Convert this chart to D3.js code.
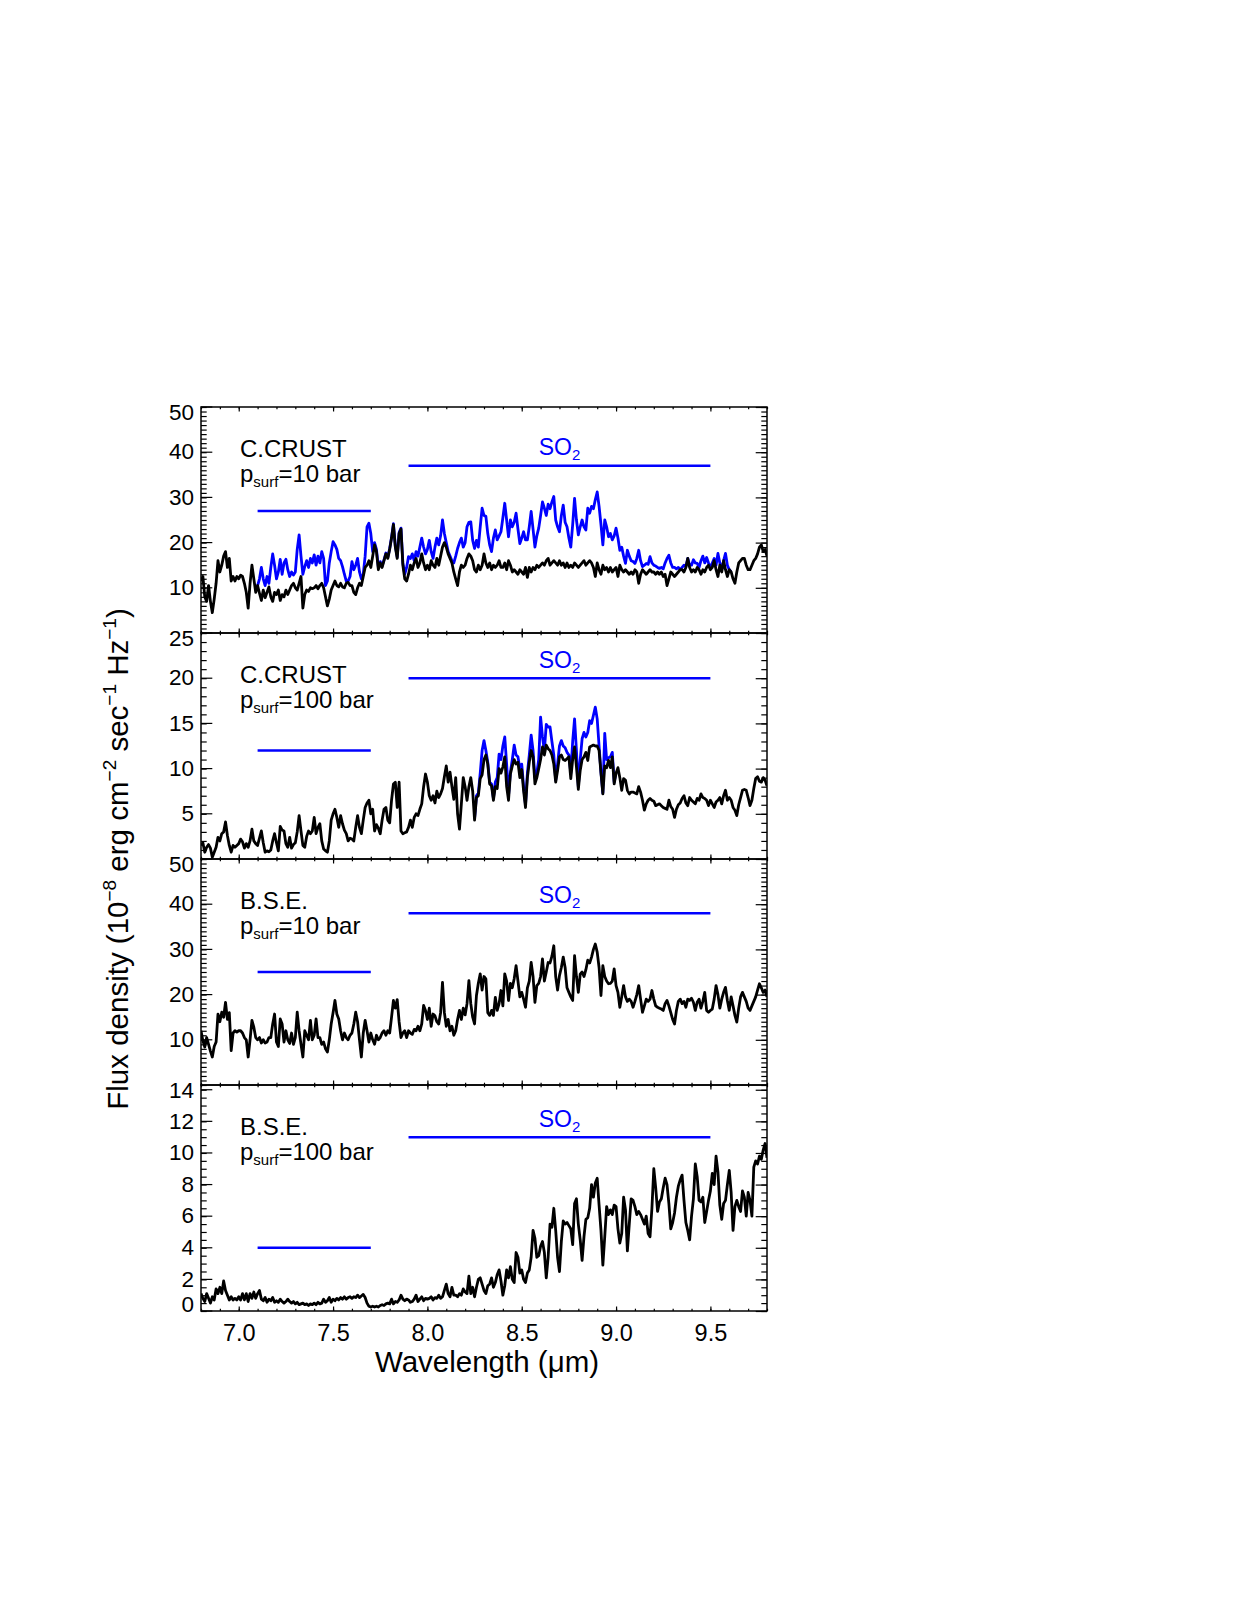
<!DOCTYPE html>
<html>
<head>
<meta charset="utf-8">
<script src="https://cdn.jsdelivr.net/npm/d3@7"></script>
<style>
  html, body { margin: 0; padding: 0; background: #fff; }
  svg { display: block; font-family: "Liberation Sans", Arial, Helvetica, sans-serif; }
</style>
</head>
<body>
<svg id="chart" width="1246" height="1612"></svg>
<script>
var lambdaStart = 6.8, lambdaStep = 0.01;

// C.CRUST, p_surf = 10 bar
var ccrust10Black = [
  11.5, 12.5, 8, 7, 10.5, 7, 4.5, 7.5, 11, 16,
  13.5, 15, 17, 18, 14.5, 16.5, 11.5, 12.5, 11.5, 12.5,
  12, 12.8, 12.5, 11, 9, 5.5, 11, 15, 12, 9,
  10.5, 8.8, 7.2, 9.5, 7.8, 9, 10.2, 8, 7, 9,
  8.5, 9.5, 7.2, 8.5, 8, 9.5, 8.5, 9.5, 10.5, 11,
  10, 9.5, 11, 12.5, 5.5, 8.5, 9.5, 9.2, 10, 9.8,
  10, 10.5, 9.8, 10.5, 11, 10, 8, 6, 7.5, 9.5,
  10.5, 11.5, 10.5, 10.2, 11, 10.2, 10, 11, 11.2, 10.5,
  10.5, 9, 8.5, 10, 11, 10.5, 12.5, 14.5, 15, 16,
  14.5, 17, 19.5, 18, 14, 15.5, 14.5, 16, 17.5, 16.5,
  18.5, 21, 24, 19, 16.5, 22, 23, 15, 12, 11.5,
  13, 15, 14, 15.5, 16.5, 14.5, 15.5, 17.5, 15.5, 14,
  15, 14, 16, 15, 14.5, 16.5, 15, 17, 19, 20,
  19, 17.5, 16.5, 15.5, 13.5, 12, 10.5, 13.5, 15, 14.5,
  15, 16.5, 17.5, 17, 16, 14, 13.5, 15, 14, 15,
  17.5, 15.5, 14.5, 15.5, 14, 15, 14.5, 15, 16, 14.5,
  14.5, 15.5, 14, 16, 15, 13.5, 14, 13.5, 13, 14,
  13.5, 13, 14.5, 12.3, 14.5, 13.5, 14.5, 14, 15, 14.5,
  15, 15.5, 15, 16, 16.5, 15, 15.5, 16, 15.5, 15,
  16, 15, 15.5, 14.5, 15.5, 14.5, 15, 14.5, 15.5, 15,
  14.5, 15, 15.5, 16, 15, 15.5, 16, 15.5, 14.5, 12.5,
  15.5, 14, 13, 15, 14, 14.5, 13.5, 14.5, 13.5, 14,
  14.5, 12.5, 15, 14, 13.5, 14, 13.5, 13, 13.5, 13,
  14, 13.5, 11, 13, 14, 13.5, 13, 13.5, 14, 13.5,
  13.5, 13, 13.5, 13, 13.5, 12.5, 13, 10.5, 12, 13.5,
  13, 12.5, 13, 13.5, 14, 14, 13.5, 14.5, 16.5, 14.5,
  13.5, 14, 13.5, 14.5, 14, 13, 14, 13.5, 14.5, 15,
  14, 14.5, 16, 14, 12.5, 15, 13.5, 16, 14, 12.5,
  14, 13.5, 12, 11, 13.5, 15.5, 16, 16.5, 16.5, 15,
  14, 14, 15, 16, 16.5, 17.5, 19, 19.5, 18, 18.5,
  17
];
var ccrust10BlueStart = 7.10;
var ccrust10Blue = [
  10.5, 12, 14.5, 12, 10.5, 12.5, 11, 14.5, 17.5, 15,
  12, 13.5, 16.3, 13, 15.5, 16.3, 14, 12.5, 13.5, 12.8,
  13.5, 18.5, 21.7, 17, 13, 14.7, 16, 14.5, 16.5, 15.5,
  17.3, 15, 17, 15.5, 18, 16.5, 10.5, 11.5, 15.5, 18,
  20.2, 19.5, 18.5, 16.5, 16, 14.7, 13, 11.5, 11.5, 12.5,
  15.8, 14, 15, 16.5, 13.5, 12, 13, 17, 23.5, 24.3,
  22, 18, 20, 18.5, 14.5, 15.8, 14.8, 16.2, 17.7, 16.7,
  18.7, 21.2, 24.2, 19.3, 16.8, 22.2, 23.2, 15.5, 13, 14.5,
  16.9, 16.5, 17.5, 16, 18, 17, 19, 21, 19, 17.5,
  18.5, 20.5, 18, 16.5, 19, 21, 19.5, 21.5, 25, 22,
  20, 18, 17, 16, 15.5, 17, 18.7, 20, 21, 19,
  20, 23.5, 24.5, 24.6, 20.5, 18.7, 20.5, 19, 23.5, 27.6,
  26, 25.8, 22, 19.5, 18, 21, 22.8, 20.6, 21.5, 22.4,
  25.5, 28.7, 25, 21.3, 25, 23.5, 24.5, 26.5, 23, 19.8,
  21, 22.4, 20.6, 20.6, 23.5, 26.9, 23, 19, 21.5, 23.2,
  26, 29, 27.6, 26, 28.5, 27.5, 29, 30.2, 25, 23.5,
  22.4, 26, 28.3, 24.5, 23.5, 21, 19, 24, 29.8, 25,
  21.7, 23.5, 25, 23.5, 22.8, 27.6, 26.5, 28, 27.5, 29.5,
  31.2, 28, 24, 19.5, 25, 23.5, 21.3, 22, 20.6, 21.5,
  23.2, 21, 18.3, 19, 17, 15.4, 18.3, 17, 16, 15.8,
  15.4, 16.5, 18.3, 16, 14.7, 15, 15.4, 15.2, 16.9, 15.5,
  15, 14.8, 14.5, 14.3, 14.5, 14.2, 15.5, 16.5, 17.2, 15.5,
  14.5, 14.5, 14.2, 14.5, 14, 14.5, 15, 14.7, 16.5, 15,
  15, 16.2, 15.5, 15.4, 14.5, 16, 17, 15.5, 16.7, 15.5,
  14.5, 15.5, 16.5, 15, 17.6, 15.5, 14, 16, 17.6, 15,
  14, 13.5
];

// C.CRUST, p_surf = 100 bar
var ccrust100Black = [
  1.5, 1.8, 0.75, 1.3, 1.6, 1.2, 0.2, 0.75, 1.3, 2.4,
  2.0, 2.8, 3.0, 4.1, 2.6, 1.5, 0.75, 1.5, 1.3, 1.5,
  1.7, 2.2, 1.9, 1.2, 1.7, 1.3, 2.0, 3.3, 2.0, 1.7,
  1.5, 2.3, 3.1, 1.8, 0.75, 0.9, 0.8, 1.0, 2.0, 2.8,
  1.8, 0.9, 3.6, 3.2, 3.1, 1.7, 1.3, 2.4, 1.2, 1.6,
  1.8, 3.0, 4.8, 3.1, 1.5, 1.3, 2.5, 3.1, 2.8, 3.1,
  4.6, 2.8, 3.5, 3.9, 2.0, 1.1, 0.9, 0.75, 2.0, 4.3,
  5.0, 5.5, 4.6, 3.5, 4.8, 3.9, 3.2, 2.8, 2.0, 2.3,
  2.2, 2.0, 3.5, 4.8, 3.5, 2.8, 4.3, 5.7, 6.2, 6.5,
  5.0, 5.5, 3.1, 3.8, 3.4, 2.8, 4.3, 5.5, 5.7, 4.3,
  4.0, 6.5, 8.3, 8.5, 5.7, 8.5, 3.1, 2.8, 2.9, 3.0,
  3.5, 4.3, 3.5, 4.6, 5.0, 4.8, 5.5, 6.1, 8.0, 9.4,
  8.5, 7.0, 6.5, 7.0, 6.2, 7.5, 6.8, 7.2, 7.8, 9.1,
  10.3, 8.5, 9.6, 8.0, 6.6, 9.0, 5.0, 3.3, 6.1, 9.0,
  8.0, 6.5, 8.0, 9.0, 7.5, 4.3, 6.8, 7.0, 8.9, 9.3,
  11.0, 11.5, 10.5, 8.3, 8.1, 6.5, 8.0, 7.8, 10.0, 9.5,
  10.2, 11.3, 8.0, 6.5, 9.4, 10.3, 11.0, 10.5, 10.7, 9.0,
  9.9, 7.5, 5.7, 9.0, 10.7, 12.0, 11.3, 8.3, 9.0, 10.0,
  11.0, 12.4, 11.5, 12.6, 12.2, 12.0, 11.5, 10.5, 8.5, 9.8,
  11.3, 11.5, 11.0, 10.9, 11.1, 11.3, 8.9, 11.0, 12.4, 10.2,
  7.7, 9.8, 11.0, 11.3, 11.8, 10.9, 12.4, 12.5, 12.6, 12.5,
  12.5, 12.0, 9.5, 7.2, 10.3, 10.1, 10.9, 10.1, 11.3, 8.3,
  9.5, 10.1, 9.0, 7.6, 8.9, 8.7, 7.6, 7.2, 7.4, 7.4,
  7.3, 7.2, 8.0, 7.4, 6.5, 5.4, 6.1, 6.5, 6.7, 6.5,
  6.4, 5.9, 6.0, 6.1, 5.9, 5.7, 5.6, 5.5, 6.5, 5.8,
  5.5, 4.6, 5.5, 6.0, 6.2, 6.7, 7.0, 6.2, 5.9, 6.8,
  6.5, 6.3, 6.1, 6.7, 6.5, 7.2, 6.8, 6.7, 6.5, 5.9,
  6.5, 6.1, 5.7, 6.3, 6.5, 6.8, 6.1, 7.0, 7.6, 6.5,
  6.8, 6.5, 5.7, 5.4, 4.8, 6.0, 6.8, 7.6, 7.7, 7.6,
  6.8, 5.9, 6.5, 7.8, 8.9, 9.1, 8.6, 8.5, 9.0, 8.7,
  8.1
];
var ccrust100BlueStart = 8.25;
var ccrust100Blue = [
  4.5, 7.0, 7.3, 9.5, 12.0,
  13.1, 12.0, 10.7, 8.5, 8.3, 6.7, 8.5, 9.0, 11.6, 11.0,
  12.5, 13.5, 10.5, 7.0, 9.6, 11.0, 12.6, 11.5, 11.3, 10.0,
  10.5, 8.0, 6.0, 9.5, 11.5, 13.7, 12.0, 9.0, 9.5, 11.0,
  15.7, 13.5, 12.0, 14.9, 14.6, 14.6, 13.0, 11.5, 8.7, 10.5,
  12.5, 13.1, 12.5, 12.3, 11.8, 11.5, 9.5, 13.0, 15.5, 12.0,
  8.0, 11.0, 13.3, 14.0, 13.5, 14.0, 15.3, 15.0, 15.9, 16.8,
  15.5, 12.5, 9.6, 7.3, 13.9, 11.0, 11.2, 11.3, 11.8, 8.5,
  9.6
];

// B.S.E., p_surf = 10 bar
var bse10Black = [
  12, 9.8, 8.4, 10.5, 9, 7.5, 6.2, 8.5, 9.5, 15.7,
  14, 16.1, 15, 18.3, 14.5, 16, 7.6, 11.5, 12, 11.7,
  12, 12, 11.5, 10.5, 10, 6.2, 10, 14.3, 12.8, 10.5,
  10, 10.5, 9.3, 10, 9.3, 9.5, 10.5, 10.5, 13.5, 15.7,
  9.5, 8.5, 14.6, 13.5, 9.5, 12, 10, 9.2, 11.5, 9,
  10.5, 16.1, 12, 9, 6.2, 12, 11, 10, 14.3, 10,
  11, 14.6, 10.5, 10.5, 9, 9.5, 8, 7.3, 10, 13.5,
  16, 18.7, 15.7, 14.6, 12, 10, 11.5, 10.5, 10, 11,
  11.5, 13.5, 16.1, 14, 10, 6.2, 11.5, 14.3, 12, 9.5,
  11.5, 10, 9, 11, 10, 10.5, 11.5, 12, 11, 12,
  11.5, 15, 18.7, 17, 18.9, 14, 10.5, 11.5, 12, 10.5,
  12, 11.5, 11.2, 12.3, 12, 13, 12, 13.5, 17.6, 16.5,
  14.5, 17, 13, 15.7, 15.3, 14, 13.5, 16, 22.7, 16,
  13, 14.5, 12, 13, 11, 12, 14.5, 16.5, 14.5, 17,
  15.5, 18, 23.1, 18, 15, 13.5, 19.8, 22.5, 24.6, 21,
  24, 23.5, 16, 15.4, 16.5, 15.4, 19.4, 16.5, 18, 20.9,
  17.5, 24.6, 23, 18.7, 22.5, 21.5, 23.5, 26.4, 23, 19.5,
  20.5, 19, 17.2, 21.5, 23, 27.1, 24, 18.3, 22, 22.5,
  24, 27.9, 23, 25, 27.1, 27, 28.5, 30.8, 24, 21,
  24.2, 26, 28.3, 26, 21.5, 20.5, 19.5, 18.7, 28.6, 24,
  20.5, 24.5, 25, 24, 25.5, 27.6, 27, 28.3, 30, 31.2,
  29.4, 26, 19.8, 26.4, 24, 23, 22.4, 22.5, 23, 25.7,
  22, 20.5, 17.2, 19.5, 22, 19.5, 18.5, 19, 18.5, 17.2,
  18.5, 20, 22, 19, 16.1, 17.5, 19, 18.5, 19, 20.9,
  19, 17.5, 17.2, 17, 16.8, 16.5, 18, 18.7, 17.5, 16,
  14.5, 13.5, 16.5, 18.5, 19, 18, 18.5, 17.2, 19, 18.7,
  19.2, 18.3, 16.5, 18.3, 19, 17, 18.5, 20.5, 16.5, 16.1,
  16.5, 16.8, 19, 22, 20, 17, 19, 20.5, 21.6, 18.7,
  16.5, 19.5, 17.5, 15.4, 13.9, 17, 19.5, 20.5, 19.5, 18.5,
  17, 16.5, 17.5, 18.5, 19.5, 21, 22.4, 21.5, 20.5, 21,
  19.5
];

// B.S.E., p_surf = 100 bar
var bse100Black = [
  1.1, 0.8, 0.6, 1.1, 0.8, 0.5, 0.9, 0.7, 1.4, 1.1,
  1.5, 1.1, 1.9, 1.3, 1.0, 0.7, 0.9, 0.7, 0.8, 0.7,
  0.9, 0.7, 1.1, 0.7, 1.1, 0.6, 1.1, 0.8, 1.2, 0.8,
  1.1, 1.3, 0.75, 0.65, 0.85, 0.55, 0.75, 0.65, 0.85, 0.55,
  0.65, 0.55, 0.75, 0.6, 0.5, 0.6, 0.75, 0.6, 0.5, 0.6,
  0.45, 0.55, 0.4, 0.45, 0.5, 0.4, 0.45, 0.35, 0.45, 0.4,
  0.5, 0.4, 0.55, 0.45, 0.5, 0.75, 0.55, 0.65, 0.85, 0.55,
  0.75, 0.65, 0.8, 0.7, 0.85, 0.75, 0.9, 0.75, 0.85, 0.9,
  0.8, 0.9, 0.85, 1.0, 0.85, 0.95, 1.05, 0.85, 0.5, 0.3,
  0.25, 0.3, 0.25, 0.3, 0.25, 0.35, 0.4, 0.35, 0.45, 0.5,
  0.45, 0.75, 0.45, 0.6, 0.55, 0.7, 1.0, 0.75, 0.65, 0.75,
  0.7, 0.55, 0.6, 0.75, 1.0, 0.6, 0.75, 0.9, 0.65, 0.8,
  0.75, 0.8, 0.9, 0.7, 0.85, 0.8, 1.0, 0.8, 0.9, 1.3,
  1.7, 1.1, 0.9, 1.5, 1.0, 1.0, 0.9, 1.1, 1.0, 1.4,
  1.2, 1.1, 2.2, 1.1, 1.5, 0.9, 1.5, 2.0, 2.1, 1.7,
  1.3, 1.1, 1.6, 1.7, 2.1, 1.5, 1.8, 2.3, 2.6, 1.9,
  1.0, 1.6, 2.6, 2.1, 2.8, 2.0, 1.8, 3.7, 3.4, 2.4,
  2.6, 2.0, 1.8, 2.4, 2.6, 3.4, 5.1, 4.6, 3.4, 3.5,
  4.1, 4.4, 3.7, 2.1, 3.4, 5.5, 5.3, 6.5, 5.1, 3.4,
  2.5, 4.4, 5.7, 5.5, 5.6, 5.4, 5.2, 4.2, 6.8, 7.1,
  5.5, 4.5, 3.2, 4.7, 5.8, 5.9, 6.5, 8.0, 7.2, 8.1,
  8.4, 6.7, 5.1, 2.9, 4.7, 6.6, 6.1, 6.4, 6.1, 6.7,
  6.6, 5.2, 4.3, 4.9, 7.2, 6.4, 3.8, 5.5, 7.1, 7.0,
  6.6, 6.1, 6.3, 6.1, 5.8, 5.5, 6.0, 4.9, 4.7, 6.5,
  9.0, 7.8, 6.3, 6.9, 7.1, 7.8, 8.4, 8.0, 6.8, 5.2,
  5.6, 6.2, 7.2, 7.9, 8.3, 8.6, 7.0, 5.6, 5.1, 4.5,
  6.0, 7.1, 9.3, 8.5, 7.0, 6.9, 7.2, 5.6, 6.3, 7.0,
  7.6, 8.7, 8.0, 9.8, 8.8, 6.7, 5.8, 6.8, 7.0, 8.0,
  8.9, 7.5, 5.1, 6.6, 7.0, 6.6, 6.3, 7.6, 7.2, 6.0,
  7.5, 7.0, 6.0, 9.1, 9.5, 9.3, 9.8, 9.6, 10.2, 10.6,
  9.7
];

// axes, labels and band markers
var xDomain = [6.8, 9.8];
var xTicks = [7.0, 7.5, 8.0, 8.5, 9.0, 9.5];
var xMinorStep = 0.1;
var panelNames = ["C.CRUST", "C.CRUST", "B.S.E.", "B.S.E."];
var panelPressures = ["10", "100", "10", "100"];
var yMax = [50, 25, 50, 14.3];
var yTicks = [[10, 20, 30, 40, 50], [5, 10, 15, 20, 25], [10, 20, 30, 40, 50], [0, 2, 4, 6, 8, 10, 12, 14]];
var yMinorStep = [1, 1, 1, 0.5];
var shortBand = [7.1, 7.7], longBand = [7.9, 9.5];
var shortBandLevel = [27, 12, 25, 4];
var longBandLevel = [37, 20, 38, 11];
var so2LabelAt = 8.7;

var blackSeries = [ccrust10Black, ccrust100Black, bse10Black, bse100Black];
var blueSeries = [
  { start: ccrust10BlueStart, values: ccrust10Blue },
  { start: ccrust100BlueStart, values: ccrust100Blue },
  null, null
];

var BLUE = "#0000ff", FONT = "\"Liberation Sans\", Arial, Helvetica, sans-serif";
var left = 201, right = 767, top0 = 407, panelH = 226;
var svg = d3.select("#chart");
svg.append("rect").attr("width", 1246).attr("height", 1612).attr("fill", "#fff");

var x = d3.scaleLinear().domain(xDomain).range([left, right]);
var xMinor = d3.range(0, Math.round((xDomain[1] - xDomain[0]) / xMinorStep) + 1)
  .map(function (i) { return +(xDomain[0] + i * xMinorStep).toFixed(2); });

function minorValues(max, step) {
  return d3.range(0, Math.floor(max / step + 1e-6) + 1).map(function (i) { return +(i * step).toFixed(2); });
}

function series(start, values) {
  return values.map(function (v, i) { return { l: start + i * lambdaStep, v: v }; });
}

function styleAxis(g) {
  g.select(".domain").remove();
  g.selectAll("line").attr("stroke", "#000").attr("stroke-width", 1.2);
  g.attr("font-family", FONT);
}

blackSeries.forEach(function (black, p) {
  var top = top0 + p * panelH, bottom = top + panelH;
  var y = d3.scaleLinear().domain([0, yMax[p]]).range([bottom, top]);
  var g = svg.append("g");

  var clipId = "clip" + p;
  svg.append("clipPath").attr("id", clipId).append("rect")
    .attr("x", left).attr("y", top).attr("width", right - left).attr("height", panelH);

  var line = d3.line().x(function (d) { return x(d.l); }).y(function (d) { return y(d.v); });
  var curves = g.append("g").attr("clip-path", "url(#" + clipId + ")");

  if (blueSeries[p]) {
    curves.append("path").datum(series(blueSeries[p].start, blueSeries[p].values))
      .attr("d", line).attr("fill", "none").attr("stroke", BLUE)
      .attr("stroke-width", 2.8).attr("stroke-linejoin", "round");
  }
  curves.append("path").datum(series(lambdaStart, black))
    .attr("d", line).attr("fill", "none").attr("stroke", "#000")
    .attr("stroke-width", 2.8).attr("stroke-linejoin", "round");

  // band markers
  [[shortBand, shortBandLevel[p]], [longBand, longBandLevel[p]]].forEach(function (b) {
    g.append("line").attr("x1", x(b[0][0])).attr("x2", x(b[0][1]))
      .attr("y1", y(b[1])).attr("y2", y(b[1]))
      .attr("stroke", BLUE).attr("stroke-width", 2.5);
  });
  var so2 = g.append("text").attr("x", x(so2LabelAt)).attr("y", y(longBandLevel[p]) - 10.5)
    .attr("text-anchor", "middle").attr("font-size", 23).attr("fill", BLUE).text("SO");
  so2.append("tspan").attr("font-size", 15).attr("dy", 5).text("2");

  // case labels
  g.append("text").attr("x", 240).attr("y", top + 49.5).attr("font-size", 24).text(panelNames[p]);
  var pl = g.append("text").attr("x", 240).attr("y", top + 74.5).attr("font-size", 24).text("p");
  pl.append("tspan").attr("font-size", 15).attr("dy", 5).text("surf");
  pl.append("tspan").attr("font-size", 24).attr("dy", -5).text("=" + panelPressures[p] + " bar");

  // frame
  g.append("rect").attr("x", left).attr("y", top).attr("width", right - left).attr("height", panelH)
    .attr("fill", "none").attr("stroke", "#000").attr("stroke-width", 1.5);

  // x ticks, pointing inward on top and bottom edges
  g.append("g").attr("transform", "translate(0," + bottom + ")")
    .call(d3.axisBottom(x).tickValues(xMinor).tickSize(-2.3).tickFormat("")).call(styleAxis);
  g.append("g").attr("transform", "translate(0," + top + ")")
    .call(d3.axisTop(x).tickValues(xMinor).tickSize(-2.3).tickFormat("")).call(styleAxis);
  g.append("g").attr("transform", "translate(0," + top + ")")
    .call(d3.axisTop(x).tickValues(xTicks).tickSize(-4.5).tickFormat("")).call(styleAxis);
  var xb = g.append("g").attr("transform", "translate(0," + bottom + ")")
    .call(d3.axisBottom(x).tickValues(xTicks).tickSize(-4.5).tickPadding(13.5)
      .tickFormat(p === 3 ? d3.format(".1f") : "")).call(styleAxis);
  xb.selectAll("text").attr("font-size", 23.5).attr("fill", "#000");

  // y ticks, pointing inward on left and right edges
  var ym = minorValues(yMax[p], yMinorStep[p]);
  g.append("g").attr("transform", "translate(" + left + ",0)")
    .call(d3.axisLeft(y).tickValues(ym).tickSize(-5.7).tickFormat("")).call(styleAxis);
  g.append("g").attr("transform", "translate(" + right + ",0)")
    .call(d3.axisRight(y).tickValues(ym).tickSize(-5.7).tickFormat("")).call(styleAxis);
  g.append("g").attr("transform", "translate(" + right + ",0)")
    .call(d3.axisRight(y).tickValues(yTicks[p]).tickSize(-11.3).tickFormat("")).call(styleAxis);
  var yl = g.append("g").attr("transform", "translate(" + left + ",0)")
    .call(d3.axisLeft(y).tickValues(yTicks[p]).tickSize(-11.3).tickPadding(-4.3)).call(styleAxis);
  // keep edge labels inside the panel band, as in the original figure
  function labelY(d) { return Math.max(top + 6, Math.min(bottom - 6, y(d))); }
  yl.selectAll(".tick").attr("transform", function (d) { return "translate(0," + labelY(d) + ")"; });
  yl.selectAll(".tick line").attr("transform", function (d) { return "translate(0," + (y(d) - labelY(d)) + ")"; });
  yl.selectAll("text").attr("font-size", 22.5).attr("fill", "#000").attr("x", -7);
});

// axis titles
svg.append("text").attr("x", 487).attr("y", 1372).attr("text-anchor", "middle")
  .attr("font-size", 29.5).attr("font-family", FONT).text("Wavelength (\u03bcm)");

var yt = svg.append("text").attr("transform", "translate(128,859) rotate(-90)")
  .attr("text-anchor", "middle").attr("font-size", 29.5).attr("font-family", FONT);
yt.append("tspan").text("Flux density (10");
yt.append("tspan").attr("font-size", 19).attr("dy", -12).text("\u22128");
yt.append("tspan").attr("dy", 12).text(" erg cm");
yt.append("tspan").attr("font-size", 19).attr("dy", -12).text("\u22122");
yt.append("tspan").attr("dy", 12).text(" sec");
yt.append("tspan").attr("font-size", 19).attr("dy", -12).text("\u22121");
yt.append("tspan").attr("dy", 12).text(" Hz");
yt.append("tspan").attr("font-size", 19).attr("dy", -12).text("\u22121");
yt.append("tspan").attr("dy", 12).text(")");
</script>
</body>
</html>
